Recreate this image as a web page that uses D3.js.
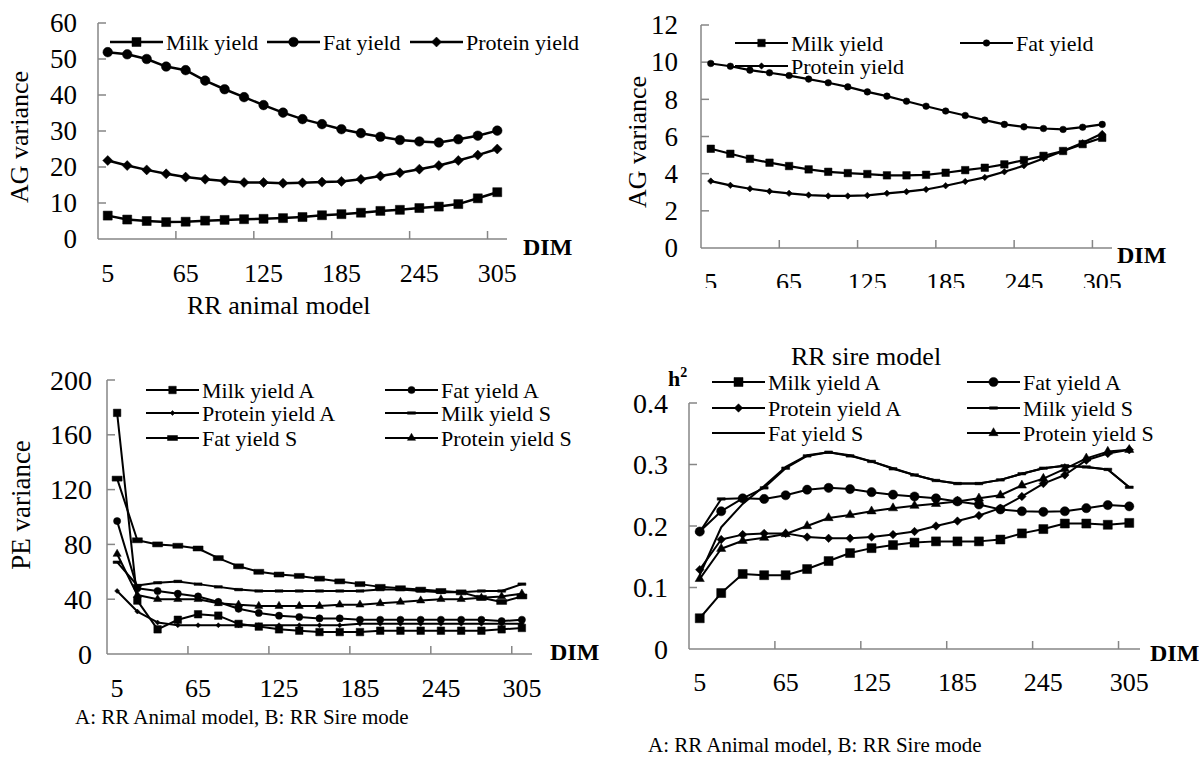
<!DOCTYPE html>
<html>
<head>
<meta charset="utf-8">
<script src="https://cdn.jsdelivr.net/npm/d3@7/dist/d3.min.js"></script>
<style>
body { margin: 0; background: #fff; }
svg { display: block; font-family: "Liberation Serif", "Times New Roman", serif; }
.axis-line { stroke: #868686; stroke-width: 1.5; fill: none; }
.series { fill: none; stroke: #000; stroke-linejoin: round; }
.marker { fill: #000; stroke: #000; stroke-width: 0.5; }
</style>
</head>
<body>
<div id="graphic"></div>
<script>
// =========================================
// four panels of variance / heritability over DIM
// =========================================

var dimDays = [5, 20, 35, 50, 65, 80, 95, 110, 125, 140, 155, 170, 185, 200, 215, 230, 245, 260, 275, 290, 305];
var dimLabels = [5, 65, 125, 185, 245, 305];

// AG variance, RR animal model
var agAnimalMilk = [6.5, 5.4, 5.0, 4.7, 4.8, 5.1, 5.3, 5.5, 5.6, 5.8, 6.1, 6.6, 6.9, 7.3, 7.8, 8.1, 8.6, 9.0, 9.7, 11.3, 13.0];
var agAnimalFat = [51.9, 51.3, 50.0, 47.9, 46.9, 44.0, 41.6, 39.4, 37.2, 35.1, 33.3, 31.9, 30.5, 29.4, 28.4, 27.5, 27.1, 26.8, 27.7, 28.7, 30.1];
var agAnimalProtein = [21.8, 20.4, 19.2, 18.1, 17.2, 16.6, 16.1, 15.7, 15.7, 15.5, 15.6, 15.8, 16.0, 16.6, 17.5, 18.4, 19.4, 20.4, 21.8, 23.3, 25.0];

// AG variance, RR sire model
var agSireMilk = [5.34, 5.07, 4.80, 4.59, 4.41, 4.23, 4.10, 4.03, 3.98, 3.91, 3.91, 3.94, 4.05, 4.19, 4.32, 4.50, 4.73, 4.96, 5.22, 5.59, 5.93];
var agSireFat = [9.93, 9.78, 9.57, 9.43, 9.28, 9.09, 8.89, 8.67, 8.40, 8.17, 7.90, 7.63, 7.37, 7.13, 6.88, 6.65, 6.52, 6.43, 6.38, 6.50, 6.65];
var agSireProtein = [3.60, 3.37, 3.19, 3.05, 2.94, 2.85, 2.80, 2.80, 2.83, 2.94, 3.03, 3.15, 3.35, 3.58, 3.80, 4.10, 4.43, 4.82, 5.22, 5.66, 6.16];

// PE variance
var peMilkA = [176, 39, 18, 25, 29, 28, 22, 20, 18, 17, 16, 16, 16, 17, 17, 17, 17, 17, 17, 18, 19];
var peFatA = [97, 48, 46, 44, 42, 38, 33, 30, 28, 27, 26, 26, 25, 25, 25, 25, 25, 25, 25, 24, 25];
var peProteinA = [46, 31, 23, 21, 21, 21, 21, 21, 21, 21, 21, 21, 22, 22, 22, 22, 22, 22, 22, 22, 22];
var peMilkS = [67, 50, 52, 53, 51, 49, 47, 46, 46, 46, 46, 46, 46, 47, 47, 46, 45, 45, 46, 46, 51];
var peFatS = [128, 83, 80, 79, 77, 70, 64, 60, 58, 57, 55, 53, 51, 49, 48, 47, 46, 45, 41, 38, 42];
var peProteinS = [73, 43, 40, 40, 40, 37, 36, 35, 35, 35, 35, 36, 36, 37, 38, 39, 40, 40, 41, 42, 44];

// heritability
var h2MilkA = [0.050, 0.091, 0.122, 0.120, 0.120, 0.130, 0.143, 0.156, 0.164, 0.169, 0.173, 0.175, 0.175, 0.175, 0.178, 0.188, 0.195, 0.204, 0.204, 0.202, 0.205];
var h2FatA = [0.191, 0.224, 0.245, 0.244, 0.250, 0.259, 0.262, 0.260, 0.255, 0.251, 0.248, 0.245, 0.240, 0.235, 0.227, 0.224, 0.223, 0.224, 0.229, 0.234, 0.232];
var h2ProteinA = [0.129, 0.178, 0.186, 0.188, 0.188, 0.182, 0.180, 0.180, 0.182, 0.186, 0.191, 0.200, 0.208, 0.217, 0.229, 0.248, 0.269, 0.283, 0.307, 0.318, 0.324];
var h2MilkS = [0.190, 0.244, 0.245, 0.262, 0.294, 0.314, 0.320, 0.314, 0.305, 0.293, 0.283, 0.274, 0.269, 0.269, 0.275, 0.285, 0.294, 0.298, 0.296, 0.292, 0.263];
var h2FatS = [0.120, 0.198, 0.236, 0.265, 0.296, 0.315, 0.320, 0.315, 0.305, 0.294, 0.283, 0.274, 0.269, 0.269, 0.275, 0.285, 0.294, 0.298, 0.296, 0.292, 0.263];
var h2ProteinS = [0.114, 0.163, 0.176, 0.181, 0.187, 0.200, 0.213, 0.218, 0.224, 0.229, 0.233, 0.236, 0.240, 0.245, 0.250, 0.266, 0.277, 0.293, 0.310, 0.321, 0.324];


var svg = d3.select('#graphic').append('svg')
	.attr('width', 1199)
	.attr('height', 766);

var defs = svg.append('defs');
defs.append('clipPath').attr('id', 'clip-sire')
	.append('rect').attr('x', 600).attr('y', 0).attr('width', 599).attr('height', 288);


renderGraphic({
	xRange: [98, 507],
	yDomain: [0, 60], yRange: [239, 23],
	yTicks: [0, 10, 20, 30, 40, 50, 60],
	yLabelX: 77, xLabelY: 282, yFont: 27, xFont: 26,
	lineWidth: 2.5,
	yTitle: {text: 'AG variance', x: 19, y: 137, size: 26},
	dim: {x: 523, y: 255},
	series: [
		{name: 'Milk yield', values: agAnimalMilk, marker: {type: 'square', size: 9}, lx: 110, ly: 42},
		{name: 'Fat yield', values: agAnimalFat, marker: {type: 'circle', size: 4.8}, lx: 267, ly: 42},
		{name: 'Protein yield', values: agAnimalProtein, marker: {type: 'diamond', size: 10}, lx: 410, ly: 42}
	]
});

renderGraphic({
	xRange: [701, 1112],
	yDomain: [0, 12], yRange: [248, 25],
	yTicks: [0, 2, 4, 6, 8, 10, 12],
	yLabelX: 678, xLabelY: 291, yFont: 27, xFont: 26,
	lineWidth: 2.2,
	clipLabels: 'url(#clip-sire)',
	yTitle: {text: 'AG variance', x: 637, y: 142, size: 26},
	dim: {x: 1117, y: 263},
	series: [
		{name: 'Milk yield', values: agSireMilk, marker: {type: 'square', size: 7.5}, lx: 735, ly: 43},
		{name: 'Fat yield', values: agSireFat, marker: {type: 'circle', size: 3.3}, lx: 960, ly: 43},
		{name: 'Protein yield', values: agSireProtein, marker: {type: 'diamond', size: 6.5}, lx: 735, ly: 66}
	]
});

renderGraphic({
	xRange: [107, 532],
	yDomain: [0, 200], yRange: [654, 380],
	yTicks: [0, 40, 80, 120, 160, 200],
	yLabelX: 92, xLabelY: 697, yFont: 28, xFont: 26,
	lineWidth: 2,
	yTitle: {text: 'PE variance', x: 21, y: 505, size: 27},
	dim: {x: 550, y: 660},
	series: [
		{name: 'Milk yield A', values: peMilkA, marker: {type: 'square', size: 7.5}, lx: 146, ly: 390},
		{name: 'Fat yield A', values: peFatA, marker: {type: 'circle', size: 3.6}, lx: 385, ly: 390},
		{name: 'Protein yield A', values: peProteinA, marker: {type: 'diamond', size: 5}, lx: 146, ly: 413},
		{name: 'Milk yield S', values: peMilkS, marker: {type: 'dash', w: 8, h: 2.5}, lx: 385, ly: 413},
		{name: 'Fat yield S', values: peFatS, marker: {type: 'dash', w: 10, h: 5}, lx: 146, ly: 438},
		{name: 'Protein yield S', values: peProteinS, marker: {type: 'triangle', size: 8}, lx: 385, ly: 438}
	]
});

renderGraphic({
	xRange: [689, 1140],
	yDomain: [0, 0.4], yRange: [649, 403],
	yTicks: [0, 0.1, 0.2, 0.3, 0.4],
	yLabelX: 668, xLabelY: 691, yFont: 28, xFont: 26,
	lineWidth: 2,
	dim: {x: 1150, y: 661},
	series: [
		{name: 'Milk yield A', values: h2MilkA, marker: {type: 'square', size: 9}, lx: 712, ly: 382},
		{name: 'Fat yield A', values: h2FatA, marker: {type: 'circle', size: 4.6}, lx: 967, ly: 382},
		{name: 'Protein yield A', values: h2ProteinA, marker: {type: 'diamond', size: 8.5}, lx: 712, ly: 408},
		{name: 'Milk yield S', values: h2MilkS, marker: {type: 'dash', w: 8, h: 2.5}, lx: 967, ly: 408},
		{name: 'Fat yield S', values: h2FatS, marker: {type: 'none'}, lx: 712, ly: 433},
		{name: 'Protein yield S', values: h2ProteinS, marker: {type: 'triangle', size: 9}, lx: 967, ly: 433}
	]
});

// h squared label
var h2 = svg.append('text')
	.attr('x', 668).attr('y', 386)
	.attr('font-size', 22).attr('font-weight', 'bold');
h2.append('tspan').text('h');
h2.append('tspan').attr('font-size', 14).attr('dy', -9).text('2');

// captions
svg.append('text').attr('x', 187).attr('y', 314).attr('font-size', 26).text('RR animal model');
svg.append('text').attr('x', 866).attr('y', 365).attr('font-size', 26)
	.attr('text-anchor', 'middle').text('RR sire model');
svg.append('text').attr('x', 75).attr('y', 724).attr('font-size', 21)
	.text('A: RR Animal model, B: RR Sire mode');
svg.append('text').attr('x', 648).attr('y', 752).attr('font-size', 21)
	.text('A: RR Animal model, B: RR Sire mode');



function renderGraphic(config) {

	var g = svg.append('g');

	// scales: excel style category axis, points sit in the middle of each band
	var x = d3.scaleBand()
		.domain(dimDays)
		.range(config.xRange);
	var y = d3.scaleLinear()
		.domain(config.yDomain)
		.range(config.yRange);
	var half = x.bandwidth() / 2;

	// 1. axes
	g.append('line').attr('class', 'axis-line')
		.attr('x1', config.xRange[0]).attr('x2', config.xRange[1])
		.attr('y1', y(0)).attr('y2', y(0));
	g.append('line').attr('class', 'axis-line')
		.attr('x1', config.xRange[0]).attr('x2', config.xRange[0])
		.attr('y1', y(0)).attr('y2', y(config.yDomain[1]));

	g.selectAll('line.ytick')
		.data(config.yTicks.slice(1))
		.enter().append('line')
		.attr('class', 'axis-line ytick')
		.attr('x1', config.xRange[0]).attr('x2', config.xRange[0] + 8)
		.attr('y1', function(d) {return y(d);})
		.attr('y2', function(d) {return y(d);});

	g.selectAll('text.ylab')
		.data(config.yTicks)
		.enter().append('text')
		.attr('class', 'ylab')
		.attr('x', config.yLabelX)
		.attr('y', function(d) {return y(d) + config.yFont * 0.34;})
		.attr('text-anchor', 'end')
		.attr('font-size', config.yFont)
		.text(function(d) {return d;});

	// ticks fall between categories, every fourth band
	g.selectAll('line.xtick')
		.data(dimLabels.slice(1))
		.enter().append('line')
		.attr('class', 'axis-line xtick')
		.attr('x1', function(d) {return x(d);})
		.attr('x2', function(d) {return x(d);})
		.attr('y1', y(0)).attr('y2', y(0) - 8);

	var xlabs = g.append('g');
	if (config.clipLabels) {xlabs.attr('clip-path', config.clipLabels);}
	xlabs.selectAll('text')
		.data(dimLabels)
		.enter().append('text')
		.attr('x', function(d) {return x(d) + half;})
		.attr('y', config.xLabelY)
		.attr('text-anchor', 'middle')
		.attr('font-size', config.xFont)
		.text(function(d) {return d;});

	g.append('text')
		.attr('x', config.dim.x).attr('y', config.dim.y)
		.attr('font-size', 24).attr('font-weight', 'bold')
		.text('DIM');

	if (config.yTitle) {
		g.append('text')
			.attr('transform', 'translate(' + config.yTitle.x + ',' + config.yTitle.y + ') rotate(-90)')
			.attr('text-anchor', 'middle')
			.attr('dy', '0.35em')
			.attr('font-size', config.yTitle.size)
			.text(config.yTitle.text);
	}

	// 2. series lines + markers
	var line = d3.line()
		.x(function(d, i) {return x(dimDays[i]) + half;})
		.y(function(d) {return y(d);});

	config.series.forEach(function(s) {
		g.append('path')
			.attr('class', 'series')
			.attr('stroke-width', config.lineWidth)
			.attr('d', line(s.values));

		if (s.marker.type !== 'none') {
			g.selectAll(null)
				.data(s.values)
				.enter().append('path')
				.attr('class', 'marker')
				.attr('d', markerPath(s.marker))
				.attr('transform', function(d, i) {
					return 'translate(' + (x(dimDays[i]) + half) + ',' + y(d) + ')';
				});
		}
	});

	// 3. legend
	var legendLen = 53;
	config.series.forEach(function(s) {
		var lg = g.append('g')
			.attr('transform', 'translate(' + s.lx + ',' + s.ly + ')');
		lg.append('line')
			.attr('class', 'series')
			.attr('stroke-width', config.lineWidth)
			.attr('x2', legendLen);
		if (s.marker.type !== 'none') {
			lg.append('path')
				.attr('class', 'marker')
				.attr('d', markerPath(s.marker))
				.attr('transform', 'translate(' + legendLen / 2 + ',0)');
		}
		lg.append('text')
			.attr('x', legendLen + 3)
			.attr('y', 7.5)
			.attr('font-size', 22)
			.text(s.name);
	});

} // end of renderGraphic()

function markerPath(m) {
	var r;
	switch (m.type) {
		case 'square':
			return d3.symbol(d3.symbolSquare, m.size * m.size)();
		case 'circle':
			return d3.symbol(d3.symbolCircle, Math.PI * m.size * m.size)();
		case 'triangle':
			return d3.symbol(d3.symbolTriangle, m.size * m.size * 0.45)();
		case 'diamond':
			r = m.size / 2;
			return 'M0,' + (-r) + 'L' + r + ',0L0,' + r + 'L' + (-r) + ',0Z';
		case 'dash':
			return 'M' + (-m.w / 2) + ',' + (-m.h / 2) + 'h' + m.w + 'v' + m.h + 'h' + (-m.w) + 'Z';
	}
	return '';
}
</script>
</body>
</html>
